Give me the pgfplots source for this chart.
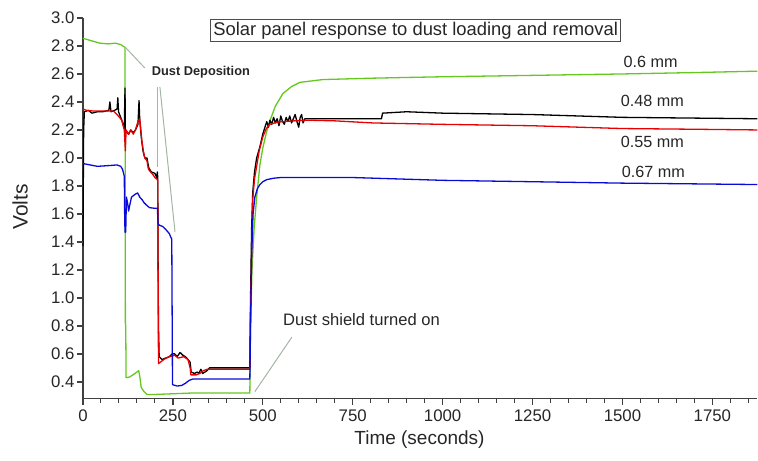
\documentclass[border=0pt]{standalone}
\usepackage{fontspec}
\setmainfont{Liberation Sans}
\usepackage{pgfplots}
\pgfplotsset{compat=1.18}
\definecolor{cgreen}{RGB}{100,200,30}
\definecolor{cred}{RGB}{232,0,0}
\definecolor{cblue}{RGB}{10,10,215}
\definecolor{cannot}{RGB}{165,180,165}
\begin{document}
\begin{tikzpicture}
\begin{axis}[
  scale only axis,
  width=675pt, height=381pt,
  xmin=0, xmax=1875, ymin=0.28, ymax=3.0,
  axis x line*=bottom, axis y line*=left,
  axis line style={-, draw=black!75, line width=1.3pt},
  clip=false,
  xtick={0,250,500,750,1000,1250,1500,1750},
  ytick={0.4,0.6,0.8,1.0,1.2,1.4,1.6,1.8,2.0,2.2,2.4,2.6,2.8,3.0},
  major tick length=0pt,
  scaled ticks=false,
  xticklabel style={/pgf/number format/1000 sep={}, yshift=-8pt},
  yticklabel style={/pgf/number format/fixed, /pgf/number format/fixed zerofill, /pgf/number format/precision=1, xshift=-5pt},
  /pgf/number format/assume math mode=true,
  tick label style={font=\fontsize{16.8}{18}\selectfont, text=black!85},
  xlabel={Time (seconds)},
  ylabel={Volts},
  xlabel style={at={(axis description cs:0.499,-0.108)}, anchor=center, font=\fontsize{19}{21}\selectfont, text=black!85},
  ylabel style={at={(axis description cs:-0.093,0.504)}, anchor=center, font=\fontsize{21}{23}\selectfont, text=black!85},
  every axis plot/.append style={line width=1.3pt, line join=round},
]
% 0.6 mm
\addplot[cgreen] coordinates {
(0,2.855) (20,2.84) (47,2.82) (70,2.815) (90,2.82) (105,2.81) (117,2.79)
(117.5,2.1) (118,0.82) (119,0.8) (120,0.43) (130,0.435) (145,0.46) (155,0.48)
(158,0.44) (162,0.36) (170,0.33) (178,0.31) (200,0.31) (250,0.315) (300,0.32)
(400,0.32) (464,0.32) (466,0.8) (470,1.2) (476,1.5) (483,1.72) (492,1.95)
(500,2.07) (510,2.18) (519,2.26) (535,2.37) (556,2.46) (580,2.51) (603,2.54)
(667,2.56) (806,2.57) (900,2.575) (1000,2.58) (1250,2.59) (1500,2.60)
(1700,2.61) (1875,2.62)
};
% 0.48 mm
\addplot[black] coordinates {
(0,1.37) (2,2.2) (4,2.33) (15,2.34) (25,2.32) (40,2.33) (55,2.33) (72,2.34)
(75,2.40) (78,2.33) (88,2.34) (95,2.35) (97,2.43) (99,2.33) (108,2.27)
(115,2.21) (117,2.5) (118,2.19) (127,2.17) (133,2.2) (140,2.18) (146,2.2)
(153,2.24) (156,2.41) (158,2.27) (163,2.13) (167,2.05) (172,2.0) (178,2.0)
(183,1.93) (190,1.9) (200,1.89) (205,1.86) (207,1.9) (208,1.86) (209,1.25)
(210,0.8) (212,0.58) (220,0.56) (230,0.57) (240,0.58) (248,0.6) (255,0.6)
(262,0.58) (270,0.61) (278,0.59) (285,0.58) (292,0.56) (298,0.54) (301,0.47)
(310,0.46) (318,0.47) (322,0.46) (328,0.49) (333,0.46) (345,0.48) (352,0.5)
(400,0.5) (464,0.5) (466,1.0) (469,1.5) (472,1.75) (477,1.9) (483,2.0)
(492,2.08) (500,2.17) (511,2.26) (516,2.22) (520,2.27) (525,2.24) (530,2.29)
(535,2.25) (540,2.28) (545,2.23) (550,2.3) (555,2.26) (560,2.24) (565,2.29)
(570,2.26) (575,2.3) (580,2.25) (585,2.28) (590,2.31) (595,2.26) (600,2.22)
(604,2.29) (608,2.31) (612,2.25) (617,2.28) (700,2.28) (830,2.28) (833,2.32)
(900,2.33) (1000,2.32) (1250,2.31) (1500,2.29) (1875,2.28)
};
% 0.55 mm
\addplot[cred] coordinates {
(0,2.35) (10,2.34) (30,2.335) (60,2.335) (85,2.335) (95,2.31) (108,2.27)
(115,2.2) (118,2.05) (120,2.2) (127,2.17) (133,2.2) (140,2.17) (146,2.2)
(153,2.26) (158,2.28) (161,2.2) (164,2.12) (168,2.05) (172,2.0) (178,1.98)
(182,1.92) (188,1.9) (195,1.88) (200,1.86) (205,1.85) (208,1.84) (209,1.2)
(210,0.53) (215,0.54) (225,0.56) (240,0.58) (255,0.59) (265,0.57) (280,0.58)
(292,0.56) (298,0.5) (300,0.45) (315,0.45) (325,0.46) (335,0.48) (345,0.49)
(400,0.49) (464,0.49) (466,0.9) (469,1.3) (472,1.7) (477,1.85) (483,1.94)
(490,2.05) (500,2.15) (510,2.21) (519,2.24) (540,2.255) (556,2.26) (620,2.27)
(700,2.265) (806,2.25) (1000,2.24) (1250,2.23) (1500,2.21) (1700,2.205)
(1875,2.2)
};
% 0.67 mm
\addplot[cblue] coordinates {
(0,1.96) (20,1.95) (40,1.94) (70,1.945) (95,1.95) (105,1.94) (110,1.92)
(115,1.87) (116,1.6) (117,1.47) (119,1.47) (121,1.72) (124,1.68) (127,1.62)
(130,1.66) (135,1.72) (145,1.74) (152,1.75) (158,1.72) (165,1.70) (170,1.68)
(178,1.66) (185,1.645) (200,1.64) (207,1.64) (209,1.53) (212,1.52) (222,1.51)
(230,1.49) (240,1.46) (245,1.43) (247,1.42) (248,0.9) (249,0.38) (262,0.37)
(275,0.375) (285,0.39) (295,0.41) (305,0.42) (400,0.42) (464,0.42) (466,0.8)
(469,1.3) (473,1.6) (478,1.72) (485,1.78) (492,1.81) (500,1.83) (511,1.845)
(530,1.855) (550,1.86) (750,1.86) (1000,1.84) (1250,1.83) (1500,1.82)
(1875,1.81)
};
% tick marks
\pgfplotsinvokeforeach{0,250,500,750,1000,1250,1500,1750}{
  \draw[black!75, line width=1.3pt] (axis cs:#1,0.28) -- ++(0pt,-6.5pt);}
\pgfplotsinvokeforeach{50,100,150,200,300,350,400,450,550,600,650,700,800,850,900,950,1050,1100,1150,1200,1300,1350,1400,1450,1550,1600,1650,1700,1800,1850}{
  \draw[black!75, line width=1.1pt] (axis cs:#1,0.28) -- ++(0pt,-4pt);}
\pgfplotsinvokeforeach{0.4,0.6,0.8,1.0,1.2,1.4,1.6,1.8,2.0,2.2,2.4,2.6,2.8,3.0}{
  \draw[black!75, line width=1.3pt] (axis cs:0,#1) -- ++(-6pt,0pt);}
% annotations
\draw[cannot, line width=1pt] (axis cs:117,2.793) -- (axis cs:172,2.643);
\draw[cannot, line width=1pt] (axis cs:208,2.507) -- (axis cs:208,1.936);
\draw[cannot, line width=1pt] (axis cs:214,2.507) -- (axis cs:256,1.47);
\draw[cannot, line width=1pt] (axis cs:581,0.72) -- (axis cs:478,0.33);
\node[font=\fontsize{12.8}{14}\selectfont\bfseries, text=black!85] at (axis cs:328,2.614) {Dust Deposition};
\node[anchor=west, inner sep=0pt, font=\fontsize{16.6}{18}\selectfont, text=black!85] at (axis cs:556,0.843) {Dust shield turned on};
\node[draw=black!70, line width=0.8pt, fill=white, inner sep=2.5pt, font=\fontsize{18.4}{20}\selectfont, text=black!85] at (axis cs:925,2.911) {Solar panel response to dust loading and removal};
\node[font=\fontsize{16.2}{18}\selectfont, text=black!85] at (axis cs:1578,2.686) {0.6 mm};
\node[font=\fontsize{16.2}{18}\selectfont, text=black!85] at (axis cs:1583,2.407) {0.48 mm};
\node[font=\fontsize{16.2}{18}\selectfont, text=black!85] at (axis cs:1583,2.114) {0.55 mm};
\node[font=\fontsize{16.2}{18}\selectfont, text=black!85] at (axis cs:1586,1.9) {0.67 mm};
\path ([shift={(-83pt,-62pt)}]rel axis cs:0,0) rectangle ([shift={(0pt,18pt)}]rel axis cs:1,1);
\end{axis}
\end{tikzpicture}
\end{document}
